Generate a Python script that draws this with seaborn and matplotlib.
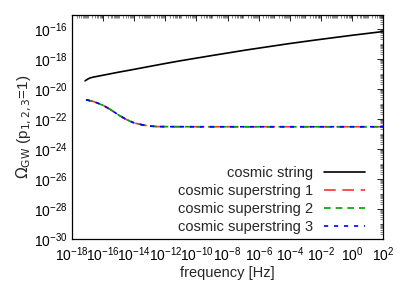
import numpy as np
import matplotlib.pyplot as plt
import seaborn as sns
from matplotlib.ticker import LogLocator, FixedLocator, NullFormatter

# values (log10 of frequency and Omega_GW)
string_logf = [-17.16, -17.0, -16.85, -16.63, -15.0, -14.26, -12.0, -11.03, -9.0, -6.73, -4.0, -2.45, 0.0, 2.0]
string_logo = [-19.47, -19.36, -19.28, -19.22, -18.89, -18.75, -18.31, -18.13, -17.78, -17.4, -16.98, -16.76, -16.43, -16.18]

super_logf = [-17.1, -16.6, -16.0, -15.5, -15.0, -14.5, -14.0, -13.4, -12.9, -12.5, -10.0, -6.0, -2.0, 2.0]
super_logo = [-20.73, -20.85, -21.1, -21.4, -21.75, -22.05, -22.28, -22.42, -22.49, -22.52, -22.53, -22.53, -22.53, -22.53]

labels = ["cosmic string", "cosmic superstring 1", "cosmic superstring 2", "cosmic superstring 3"]
colors = ["black", "#ff3030", "#00a000", "#0000ff"]
dashes = [(None, None), (7, 4), (4, 3), (2.5, 3.5)]

sns.set_style("white")
plt.rcParams['font.family'] = ['Liberation Sans', 'DejaVu Sans']

fig, ax = plt.subplots(figsize=(4.09, 2.86), dpi=100)
fig.subplots_adjust(left=0.176, right=0.937, top=0.948, bottom=0.165)

f1 = 10 ** np.array(string_logf)
o1 = 10 ** np.array(string_logo)
f2 = 10 ** np.array(super_logf)
o2 = 10 ** np.array(super_logo)

sns.lineplot(x=f1, y=o1, ax=ax, color=colors[0], lw=1.2, label=labels[0])
for i in range(1, 4):
    ln = sns.lineplot(x=f2, y=o2, ax=ax, color=colors[i], lw=1.2, label=labels[i])
    ln.lines[-1].set_dashes(dashes[i])

ax.set_xscale("log")
ax.set_yscale("log")
ax.set_xlim(1e-18, 1e2)
ax.set_ylim(1e-30, 10 ** -15.07)

ax.xaxis.set_major_locator(FixedLocator([10.0 ** k for k in range(-18, 3, 2)]))
ax.yaxis.set_major_locator(FixedLocator([10.0 ** k for k in range(-30, -15, 2)]))
ax.xaxis.set_minor_locator(LogLocator(base=10, subs=np.arange(1, 10), numticks=100))
ax.yaxis.set_minor_locator(LogLocator(base=10, subs=np.arange(1, 10), numticks=100))
ax.xaxis.set_minor_formatter(NullFormatter())
ax.yaxis.set_minor_formatter(NullFormatter())

ax.tick_params(which="major", direction="in", length=4, width=0.6, top=True, right=True,
               labelsize=10, pad=3, colors="black")
ax.tick_params(axis="x", which="major", pad=5)
ax.tick_params(which="minor", direction="in", length=2, width=0.4, top=True, right=True)
for s in ax.spines.values():
    s.set_color("black")
    s.set_linewidth(0.9)

ax.set_xlabel("frequency [Hz]", fontsize=10.5, labelpad=1)
ax.set_ylabel(r"$\Omega_{\rm GW}$ (p$_{1,2,3}$=1)", fontsize=11, labelpad=0)

ax.legend(loc="lower right", bbox_to_anchor=(0.94, 0.02), frameon=False, markerfirst=False,
          fontsize=10.5, handlelength=2.75, labelspacing=0.28, borderaxespad=0, borderpad=0,
          handletextpad=0.8)

fig.savefig("out.png", dpi=100)
